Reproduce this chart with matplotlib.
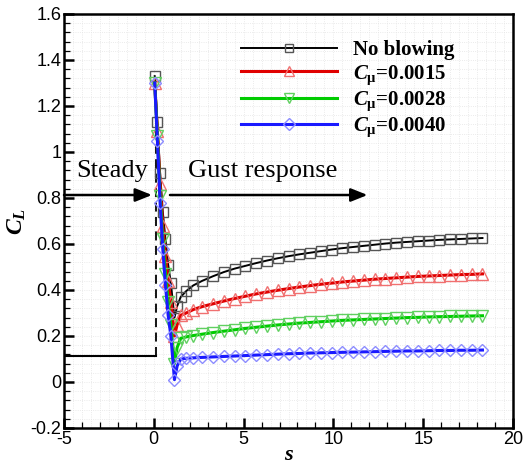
import numpy as np
import matplotlib.pyplot as plt
from matplotlib.ticker import MultipleLocator

# time s, shared by all runs
s = [0.05, 0.2, 0.35, 0.5, 0.65, 0.8, 0.95, 1.15, 1.3, 1.5, 1.8, 2.2, 2.7, 3.3, 3.9,
     4.5, 5.1, 5.7, 6.3, 6.9, 7.5, 8.1, 8.7, 9.3, 9.9, 10.5, 11.1, 11.7, 12.3, 12.9,
     13.5, 14.1, 14.7, 15.3, 15.9, 16.5, 17.1, 17.7, 18.3]

cl_none = [1.33, 1.13, 0.91, 0.74, 0.62, 0.51, 0.43, 0.28, 0.33, 0.37, 0.395, 0.42, 0.44,
           0.46, 0.478, 0.493, 0.505, 0.517, 0.528, 0.538, 0.547, 0.555, 0.562, 0.569,
           0.576, 0.582, 0.587, 0.592, 0.597, 0.602, 0.606, 0.609, 0.612, 0.615, 0.618,
           0.62, 0.622, 0.624, 0.626]
cl_0015 = [1.30, 1.09, 0.86, 0.68, 0.55, 0.44, 0.35, 0.20, 0.25, 0.29, 0.30, 0.315, 0.328,
           0.34, 0.352, 0.363, 0.373, 0.383, 0.391, 0.399, 0.406, 0.413, 0.419, 0.425,
           0.43, 0.435, 0.439, 0.443, 0.447, 0.45, 0.453, 0.456, 0.459, 0.461, 0.463,
           0.465, 0.467, 0.468, 0.47]
cl_0028 = [1.30, 1.07, 0.81, 0.62, 0.47, 0.35, 0.25, 0.08, 0.15, 0.19, 0.196, 0.202, 0.208,
           0.215, 0.221, 0.227, 0.233, 0.238, 0.243, 0.248, 0.252, 0.256, 0.259, 0.262,
           0.265, 0.268, 0.27, 0.272, 0.274, 0.276, 0.278, 0.28, 0.281, 0.283, 0.284,
           0.285, 0.286, 0.287, 0.288]
cl_0040 = [1.30, 1.05, 0.78, 0.58, 0.42, 0.29, 0.20, 0.01, 0.07, 0.10, 0.103, 0.105, 0.107,
           0.109, 0.111, 0.113, 0.115, 0.117, 0.119, 0.121, 0.123, 0.124, 0.126, 0.127,
           0.128, 0.129, 0.13, 0.131, 0.132, 0.133, 0.134, 0.135, 0.135, 0.136, 0.137,
           0.137, 0.138, 0.138, 0.139]

# steady part before the gust
s_steady = [-5, 0.1]
cl_steady = [0.115, 0.115]
s_jump = [0.1, 0.1]
cl_jump = [0.115, 1.30]

labels = ['No blowing', r'$C_{\mathrm{\mu}}$=0.0015',
          r'$C_{\mathrm{\mu}}$=0.0028', r'$C_{\mathrm{\mu}}$=0.0040']

plt.rcParams['mathtext.fontset'] = 'custom'
plt.rcParams['mathtext.it'] = 'Liberation Serif:italic:bold'
plt.rcParams['mathtext.bf'] = 'Liberation Serif:italic:bold'
plt.rcParams['mathtext.bfit'] = 'Liberation Serif:italic:bold'
plt.rcParams['mathtext.rm'] = 'Liberation Serif:bold'

fig = plt.figure(figsize=(5.32, 4.66), dpi=100)
ax = fig.add_axes([64/532, 38/466, 449/532, 414/466])

ax.plot(s_steady, cl_steady, color='black', lw=1.5)
ax.plot(s_jump, cl_jump, color='black', lw=1.3, ls=(0, (5, 3)))

ax.plot(s, cl_none, color='black', lw=1.4, marker='s', ms=7, mfc='none',
        mec='#555555', mew=1.0, label=labels[0])
ax.plot(s, cl_0015, color='#e00000', lw=2.2, marker='^', ms=8, mfc='none',
        mec='#f07070', mew=1.0, label=labels[1])
ax.plot(s, cl_0028, color='#00cc00', lw=2.2, marker='v', ms=8, mfc='none',
        mec='#60d060', mew=1.0, label=labels[2])
ax.plot(s, cl_0040, color='#1a1aff', lw=2.2, marker='D', ms=6.5, mfc='none',
        mec='#8c8cff', mew=1.0, label=labels[3])

# arrows and phase labels
arrow = dict(arrowstyle='-|>,head_length=1.0,head_width=0.4', color='black', lw=1.8,
             shrinkA=0, shrinkB=0)
ax.annotate('', xy=(-0.1, 0.813), xytext=(-5, 0.813), arrowprops=arrow)
ax.annotate('', xy=(11.9, 0.813), xytext=(0.9, 0.813), arrowprops=arrow)
ax.text(-4.3, 0.893, 'Steady', family='Liberation Serif', fontsize=19)
ax.text(1.9, 0.893, 'Gust response', family='Liberation Serif', fontsize=19)

ax.set_xlim(-5, 20)
ax.set_ylim(-0.2, 1.6)
ax.xaxis.set_major_locator(MultipleLocator(5))
ax.xaxis.set_minor_locator(MultipleLocator(1))
ax.yaxis.set_major_locator(MultipleLocator(0.2))
ax.yaxis.set_minor_locator(MultipleLocator(0.04))
ax.set_yticks(ax.get_yticks(), [f'{v:g}' for v in ax.get_yticks()],
              family='Liberation Sans')
ax.set_xticks(ax.get_xticks(), [f'{v:g}' for v in ax.get_xticks()],
              family='Liberation Sans')
ax.set_xlim(-5, 20)
ax.set_ylim(-0.2, 1.6)

ax.tick_params(which='major', direction='in', length=7, width=1.8, labelsize=13,
               pad=2)
ax.tick_params(which='minor', direction='in', length=4, width=0.9)
for sp in ax.spines.values():
    sp.set_linewidth(1.8)

# faint background grid
for v in np.arange(-4.5, 20, 0.5):
    ax.axvline(v, color='#e4e4e4', lw=0.6, ls=':', zorder=0)
for v in np.arange(-0.16, 1.6, 0.04):
    ax.axhline(v, color='#e4e4e4', lw=0.6, ls=':', zorder=0)

ax.set_xlabel('s', family='Liberation Serif', fontweight='bold', style='italic',
              fontsize=16, labelpad=-2)
ax.set_ylabel(r'$C_L$', fontsize=17, labelpad=2)

leg = ax.legend(loc='upper left', bbox_to_anchor=(0.353, 0.982), frameon=False,
                handlelength=4.6, handletextpad=0.75, labelspacing=0.14,
                prop={'family': 'Liberation Serif', 'weight': 'bold', 'size': 15},
                markerscale=0.9)

fig.savefig('out.png', dpi=100)
